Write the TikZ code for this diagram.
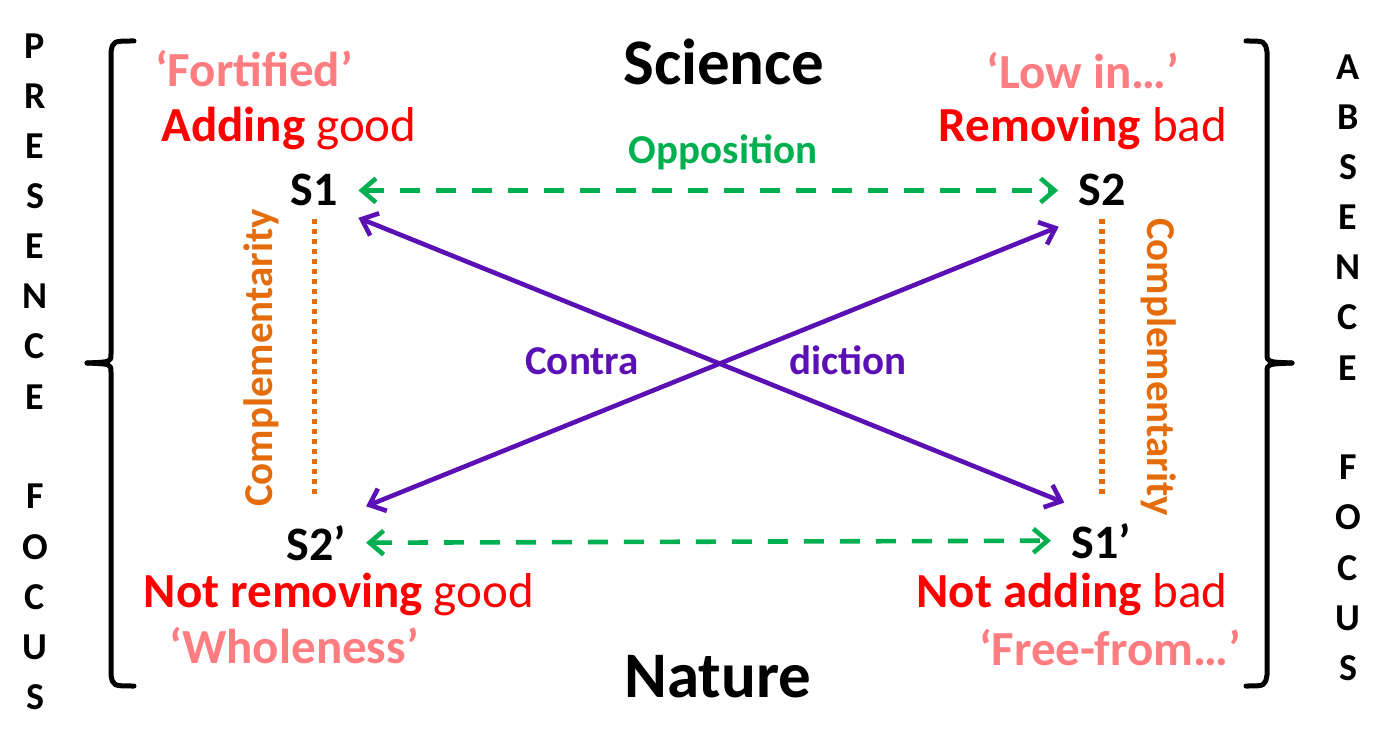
\documentclass[tikz,border=0pt]{standalone}
\usepackage{fontspec}
\setmainfont{Carlito}
\usepackage{xcolor}
\usepackage{tikz}
\usetikzlibrary{positioning, arrows.meta}
\definecolor{claimred}{HTML}{FF0000}
\definecolor{claimpink}{HTML}{FF7C80}
\definecolor{oppgreen}{HTML}{00B050}
\definecolor{contrapurple}{HTML}{5A10B4}
\definecolor{comporange}{HTML}{E46C0A}
\tikzset{
  pole/.style={font=\fontsize{32.5}{36}\selectfont\bfseries, anchor=base, inner sep=0pt},
  corner/.style={font=\fontsize{24}{28}\selectfont\bfseries, anchor=base, inner sep=10pt},
  claim/.style={font=\fontsize{24.5}{28}\selectfont, text=claimred, anchor=base, inner sep=0pt},
  slogan/.style={font=\fontsize{24.5}{28}\selectfont\bfseries, text=claimpink, anchor=base, inner sep=0pt},
  relname/.style={font=\fontsize{20.5}{24}\selectfont\bfseries, anchor=base, inner sep=0pt},
  focus/.style={font=\fontsize{19}{22}\selectfont\bfseries, anchor=base, inner sep=0pt},
  bracket/.style={line width=2.5pt, line cap=round, line join=round},
  opposition/.style={{Straight Barb[length=7pt,width=12pt]}-{Straight Barb[length=7pt,width=12pt]}, line width=2.3pt, draw=oppgreen, dash pattern=on 10pt off 8pt},
  contradiction/.style={{Straight Barb[length=7pt,width=12pt]}-{Straight Barb[length=7pt,width=12pt]}, line width=2.3pt, draw=contrapurple},
  complement/.style={draw=comporange, line width=2.6pt, dash pattern=on 2.5pt off 2.5pt},
}

\begin{document}
\begin{tikzpicture}[x=0.5pt, y=-0.5pt]
  \useasboundingbox (0,0) rectangle (1388,754);

  % Poles
  \node[pole] (science) at (724,85) {Science};
  \node[pole] (nature) at (718,697) {Nature};

  % Corners of the square
  \node[corner] (S1) at (314.5,206) {S1};
  \node[corner] (S2) at (1102,206) {S2};
  \node[corner] (S2p) at (316,560) {S2’};
  \node[corner] (S1p) at (1101,558) {S1’};

  % Claims
  \node[slogan] (fortified) at (254,87) {‘Fortified’};
  \node[claim] (addgood) at (289,142) {\textbf{Adding} good};
  \node[slogan] (lowin) at (1083,89) {‘Low in…’};
  \node[claim] (rembad) at (1083,142) {\textbf{Removing} bad};
  \node[claim] (notremgood) at (339,607) {\textbf{Not removing} good};
  \node[slogan] (wholeness) at (294,663) {‘Wholeness’};
  \node[claim] (notaddbad) at (1072,607) {\textbf{Not adding} bad};
  \node[slogan] (freefrom) at (1110,665) {‘Free-from…’};

  % Relations
  \draw[opposition] (S1.east) -- (S2.west);
  \draw[opposition] (S2p.east) -- (S1p.west);
  \node[relname, text=oppgreen] (opp) at (723,164) {Opposition};

  \draw[contradiction] (S1.-32) -- (S1p.134);
  \draw[contradiction] (S2p.36) -- (S2.220);
  \node[relname, text=contrapurple] (contra) at (582,375) {Contra};
  \node[relname, text=contrapurple] (diction) at (848,375) {diction};

  \draw[complement, shorten <=-4pt, shorten >=4.5pt] (S1.south) -- (S1.south |- S2p.north);
  \draw[complement, shorten <=-4pt, shorten >=3.5pt] (S2.south) -- (S2.south |- S1p.north);
  \node[relname, text=comporange, rotate=90] (compleft) at (272,358) {Complementarity};
  \node[relname, text=comporange, rotate=-90] (compright) at (1147,367) {Complementarity};

  % Brackets
  \draw[bracket] (134,41) .. controls (113,41) .. (111,52) -- (111,354) .. controls (111,362) .. (87,363);
  \draw[bracket] (87,363) .. controls (111,364) .. (111,372) -- (111,675) .. controls (113,686) .. (134,686);
  \draw[bracket] (1246,41) .. controls (1265,41) .. (1267,52) -- (1267,354) .. controls (1267,362) .. (1292,363);
  \draw[bracket] (1292,363) .. controls (1267,364) .. (1267,372) -- (1267,675) .. controls (1265,686) .. (1246,686);

  % Focus columns
  \foreach \ch [count=\i from 0] in {P,R,E,S,E,N,C,E}
    \node[focus] (pres\i) at (35,{59+50*\i}) {\ch};
  \foreach \ch [count=\i from 9] in {F,O,C,U,S}
    \node[focus] (pfoc\i) at (35,{59+50*\i}) {\ch};
  \foreach \ch [count=\i from 0] in {A,B,S,E,N,C,E}
    \node[focus] (abs\i) at (1348,{80+50*\i}) {\ch};
  \foreach \ch [count=\i from 8] in {F,O,C,U,S}
    \node[focus] (afoc\i) at (1348,{80+50*\i}) {\ch};
\end{tikzpicture}
\end{document}
